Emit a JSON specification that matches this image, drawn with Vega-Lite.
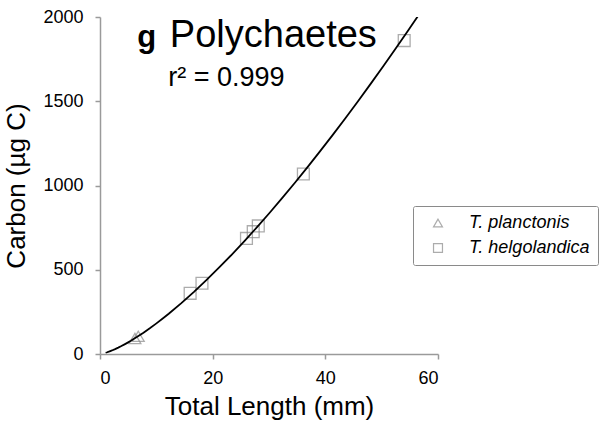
{
  "$schema": "https://vega.github.io/schema/vega-lite/v6.json",
  "autosize": "none",
  "width": 338,
  "height": 337,
  "padding": {"left": 100, "top": 17, "right": 178, "bottom": 77},
  "background": "white",
  "config": {
    "font": "Liberation Sans",
    "view": {"stroke": null},
    "axis": {
      "grid": false,
      "domainColor": "#9a9a9a",
      "domainWidth": 1.5,
      "tickColor": "#9a9a9a",
      "tickWidth": 1.5,
      "tickSize": 5,
      "labelColor": "black",
      "labelFontSize": 18,
      "labelFont": "Liberation Sans",
      "titleFont": "Liberation Sans",
      "titleFontSize": 26,
      "titleFontWeight": "normal",
      "titleColor": "black"
    }
  },
  "datasets": {
    "samples": [
      {"species": "T. planctonis", "length": 6.2, "carbon": 92},
      {"species": "T. planctonis", "length": 6.8, "carbon": 105},
      {"species": "T. helgolandica", "length": 16.0, "carbon": 360},
      {"species": "T. helgolandica", "length": 18.1, "carbon": 420},
      {"species": "T. helgolandica", "length": 26.0, "carbon": 686},
      {"species": "T. helgolandica", "length": 27.2, "carbon": 726},
      {"species": "T. helgolandica", "length": 28.1, "carbon": 760},
      {"species": "T. helgolandica", "length": 36.1, "carbon": 1068},
      {"species": "T. helgolandica", "length": 54.0, "carbon": 1860}
    ],
    "note": [{}]
  },
  "layer": [
    {
      "data": {"name": "samples"},
      "mark": {"type": "point", "filled": false, "strokeWidth": 1.3, "color": "#8a8a8a", "size": 140},
      "encoding": {
        "x": {
          "field": "length", "type": "quantitative",
          "scale": {"domain": [0, 60], "nice": false},
          "axis": {"values": [0, 20, 40, 60], "format": "d", "title": "Total Length (mm)", "labelPadding": 10, "titlePadding": 6}
        },
        "y": {
          "field": "carbon", "type": "quantitative",
          "scale": {"domain": [0, 2000], "nice": false},
          "axis": {"values": [0, 500, 1000, 1500, 2000], "format": "d", "title": "Carbon (µg C)", "labelPadding": 12, "titlePadding": 13}
        },
        "shape": {
          "field": "species", "type": "nominal",
          "scale": {"domain": ["T. planctonis", "T. helgolandica"], "range": ["triangle-up", "square"]},
          "legend": {
            "title": null,
            "orient": "none",
            "legendX": 313,
            "legendY": 189,
            "strokeColor": "#8a8a8a",
            "cornerRadius": 2,
            "padding": 8,
            "symbolSize": 80,
            "symbolStrokeColor": "#8a8a8a",
            "symbolStrokeWidth": 1.2,
            "symbolFillColor": "transparent",
            "symbolOffset": 8,
            "labelOffset": 22,
            "labelFontSize": 18,
            "labelFontStyle": "italic",
            "labelFont": "Liberation Sans",
            "rowPadding": 7
          }
        }
      }
    },
    {
      "data": {"name": "samples"},
      "transform": [
        {"regression": "carbon", "on": "length", "method": "pow", "extent": [1, 57]}
      ],
      "mark": {"type": "line", "color": "black", "strokeWidth": 1.8, "clip": true},
      "encoding": {
        "x": {"field": "length", "type": "quantitative"},
        "y": {"field": "carbon", "type": "quantitative"}
      }
    },
    {
      "data": {"name": "note"},
      "mark": {"type": "text", "align": "left", "baseline": "alphabetic", "fontSize": 31, "fontWeight": "bold", "font": "Liberation Sans"},
      "encoding": {
        "x": {"datum": 6.6},
        "y": {"datum": 1822},
        "text": {"value": "g"}
      }
    },
    {
      "data": {"name": "note"},
      "mark": {"type": "text", "align": "left", "baseline": "alphabetic", "fontSize": 38, "font": "Liberation Sans"},
      "encoding": {
        "x": {"datum": 12.4},
        "y": {"datum": 1822},
        "text": {"value": "Polychaetes"}
      }
    },
    {
      "data": {"name": "note"},
      "mark": {"type": "text", "align": "left", "baseline": "alphabetic", "fontSize": 27, "font": "Liberation Sans"},
      "encoding": {
        "x": {"datum": 12.1},
        "y": {"datum": 1590},
        "text": {"value": "r² = 0.999"}
      }
    }
  ]
}
